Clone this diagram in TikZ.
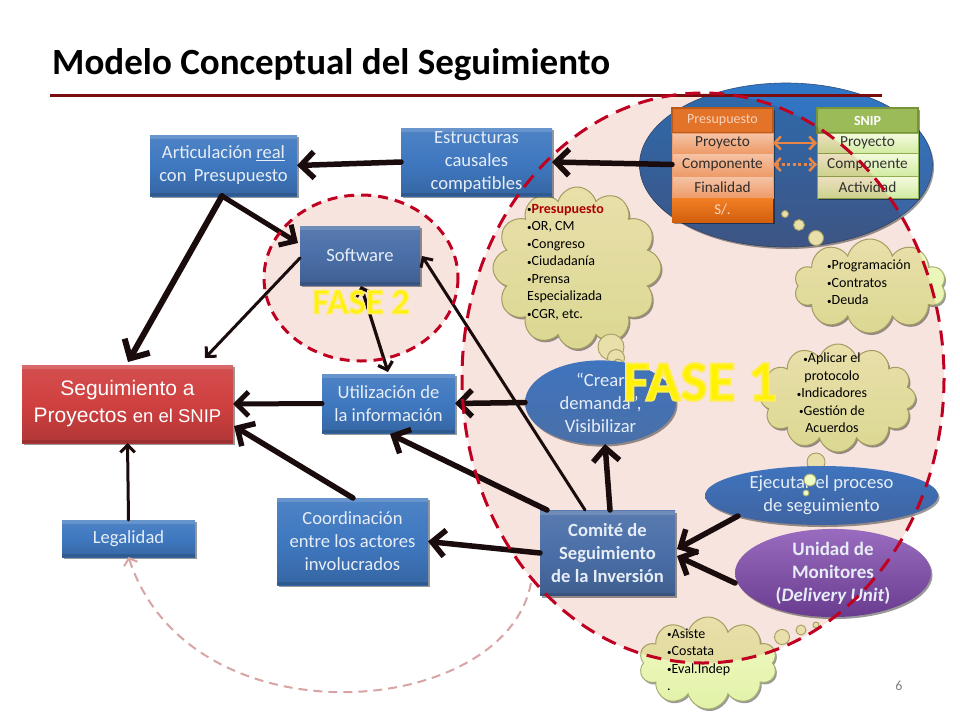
\documentclass[tikz,border=0pt]{standalone}
\usepackage{fontspec}
\setmainfont{Carlito}
\newfontfamily\arialf{Liberation Sans}
\usetikzlibrary{arrows.meta,shadows,shapes.geometric,shapes.symbols}
\newcommand{\blt}{{\fontsize{9}{9}\selectfont\raisebox{.6pt}{•}}}
\definecolor{ink}{HTML}{1A0C0C}
\definecolor{dashred}{HTML}{C00020}
\definecolor{pinkbg}{HTML}{F8E4DE}
\definecolor{lite}{HTML}{E6EDF6}
\definecolor{cloudedge}{HTML}{A8B070}
\definecolor{cloudtop}{HTML}{F0FAC4}
\definecolor{cloudbot}{HTML}{E2F2A8}
\definecolor{PchT}{HTML}{FCDCC0}
\definecolor{PchB}{HTML}{F5AE78}
\definecolor{SnipE}{HTML}{8FAE52}
\definecolor{SnT}{HTML}{F5FBDF}
\definecolor{SnB}{HTML}{D2EBA2}
\definecolor{OrA}{HTML}{EE9650}
\definecolor{BoxA}{HTML}{3F78C0}
\definecolor{BoxB}{HTML}{4A6FA8}
\definecolor{BoxR}{HTML}{D04040}
\definecolor{BlueT}{HTML}{2F78C8}
\definecolor{BlueB}{HTML}{3F5F98}
\definecolor{BlueE}{HTML}{2F4C7A}
\definecolor{CreT}{HTML}{3F74BE}
\definecolor{CreB}{HTML}{4A6FA8}
\definecolor{EjeB}{HTML}{3F63A0}
\definecolor{UniT}{HTML}{9A6CC0}
\definecolor{UniB}{HTML}{6A3C90}
\definecolor{PHE}{HTML}{C0651F}
\definecolor{PHF}{HTML}{E9812F}
\definecolor{STop}{HTML}{F98F2A}
\definecolor{SBot}{HTML}{D96A10}
\definecolor{SHE}{HTML}{77933C}
\definecolor{SHF}{HTML}{9BBB59}
\definecolor{RuleC}{HTML}{7A0C10}
\definecolor{PinkL}{HTML}{D8A4A4}
\definecolor{PchE}{HTML}{F2B080}
\tikzset{
  bevel/.style={path picture={
    \fill[white,opacity=.15] (path picture bounding box.north west) rectangle ([yshift=-4pt]path picture bounding box.north east);
    \fill[black,opacity=.12] (path picture bounding box.south west) rectangle ([yshift=3pt]path picture bounding box.south east);
  }},
  shad/.style={drop shadow={shadow xshift=1.5pt,shadow yshift=-2pt,opacity=.4,fill=black}},
  bx/.style={rectangle,bevel,shad,inner sep=1pt,outer sep=0pt,align=center,text=lite,
    top color=#1!92!white,bottom color=#1!85!black,middle color=#1,
    font=\fontsize{18.6}{23}\selectfont},
  ell/.style={ellipse,shad,inner sep=0pt,outer sep=0pt,align=center,text=lite,
    font=\fontsize{18.6}{23}\selectfont},
  puff/.style={cloud,cloud puffs=#1,cloud ignores aspect,inner sep=0pt,outer sep=0pt,draw=cloudedge,line width=1pt,
    top color=cloudtop,bottom color=cloudbot,shad},
  bub/.style={circle,inner sep=0pt,outer sep=0pt,draw=cloudedge,line width=.9pt,fill=cloudtop},
  cloudtxt/.style={align=left,anchor=north west,inner sep=0pt,text=black,
    font=\fontsize{14}{17.5}\selectfont},
  row/.style={rectangle,inner sep=0pt,outer sep=0pt,minimum width=101pt,text=black!80,
    font=\fontsize{15.3}{16}\selectfont,shad},
  ptop/.style={row,draw=PchE,top color=PchT,bottom color=PchB},
  stop/.style={row,draw=SnipE,line width=.7pt,top color=SnT,bottom color=SnB},
  conn/.style={draw=ink,line width=#1*1pt,line cap=round,line join=round,
    -{Straight Barb[length=#1*2.4pt,width=#1*4.8pt,line width=#1*1pt]}},
  ornarrow/.style={draw=OrA,line width=2.6pt,{Straight Barb[length=6pt,width=13pt]}-{Straight Barb[length=6pt,width=13pt]}},
  faselbl/.style={inner sep=0pt,text=yellow}
}
\begin{document}
\begin{tikzpicture}[x=1pt,y=-1pt]
\useasboundingbox (0,0) rectangle (960,720);
\fill[white] (0,0) rectangle (960,720);

% title
\node[anchor=base west,inner sep=0pt,text=black,font=\bfseries\fontsize{37}{40}\selectfont] (title) at (52,74) {Modelo Conceptual del Seguimiento};

% FASE 2 region
\node[ellipse,minimum width=195pt,minimum height=166pt,inner sep=0pt,fill=pinkbg] (f2bg) at (361,278) {};

% blue thought ellipse
\node[ell,minimum width=293pt,minimum height=164pt,top color=BlueT,bottom color=BlueB,draw=BlueE,line width=.6pt] (blue) at (786,165) {};
\node[bub,minimum size=7pt] (pb1) at (785,214) {};
\node[bub,minimum size=11pt] (pb2) at (799,225) {};
\node[bub,minimum size=15pt] (pb3) at (816,238) {};

% clouds
\node[puff=12,minimum width=168pt,minimum height=162pt] (cl1) at (577,268) {};
\node[puff=10,minimum width=152pt,minimum height=94pt] (cl2) at (870,286) {};
\node[puff=12,minimum width=155pt,minimum height=108pt] (cl3) at (838,398) {};
\node[puff=10,minimum width=138pt,minimum height=92pt] (cl4) at (708,663) {};
\node[bub,minimum size=26pt] (b11) at (611,347) {};
\node[bub,minimum size=17pt] (b12) at (616,358) {};
\node[bub,minimum size=10pt] (b13) at (618,364) {};
\node[bub,minimum size=18pt] (b31) at (816,462) {};
\node[bub,minimum size=15pt] (b41) at (782,637) {};
\node[bub,minimum size=10pt] (b42) at (801,630) {};
\node[bub,minimum size=6pt] (b43) at (816,625) {};

\node[cloudtxt] (t1) at (527,204) {\blt\textcolor{red!70!black}{\textbf{Presupuesto}}\\\blt OR, CM\\\blt Congreso\\\blt Ciudadanía\\\blt Prensa\\Especializada\\\blt CGR, etc.};
\node[cloudtxt] (t2) at (827,260) {\blt Programación\\\blt Contratos\\\blt Deuda};
\node[cloudtxt,align=center,anchor=north] (t3) at (832,353) {\blt Aplicar el\\protocolo\\\blt Indicadores\\\blt Gestión de\\Acuerdos};
\node[cloudtxt] (t4) at (667,628.5) {\blt Asiste\\\blt Costata\\\blt Eval.Indep\\.};

% tables
\node[row,minimum height=25pt,draw=PHE,line width=1.6pt,fill=PHF,text=white!85!orange,font=\fontsize{14}{15}\selectfont] (phead) at (722.5,120.5) {Presupuesto};
\node[ptop,minimum height=20pt] (p1) at (722.5,143) {Proyecto};
\node[ptop,minimum height=23pt] (p2) at (722.5,164.5) {Componente};
\node[ptop,minimum height=22pt] (p3) at (722.5,187) {Finalidad};
\node[row,minimum height=24pt,top color=STop,bottom color=SBot,text=white!90!orange,font=\fontsize{15}{16}\selectfont] (p4) at (722.5,210) {S/.};
\node[row,minimum height=25pt,draw=SHE,line width=1.6pt,fill=SHF,text=white,font=\bfseries\fontsize{14}{15}\selectfont] (shead) at (867.5,120.5) {SNIP};
\node[stop,minimum height=20pt] (s1) at (867.5,143) {Proyecto};
\node[stop,minimum height=23pt] (s2) at (867.5,164.5) {Componente};
\node[stop,minimum height=22pt] (s3) at (867.5,187) {Actividad};
\draw[ornarrow] (p1) -- (s1);
\draw[ornarrow,dash pattern=on 3pt off 2.5pt] (p2) -- (s2);

% FASE 1 fill, tinting what lies under it
\begin{scope}[blend mode=multiply]
\fill[pinkbg] (703,378) ellipse [x radius=241,y radius=285];
\end{scope}

% rule over the blue ellipse
\draw[line width=2.6pt,draw=RuleC] (50,95.5) -- (882,95.5);

% boxes
\node[bx=BoxA,minimum width=147pt,minimum height=61pt] (art) at (223.5,165.5) {Articulación \underline{real}\\con\, Presupuesto};
\node[bx=BoxA,minimum width=151pt,minimum height=68pt] (est) at (476.5,162) {Estructuras\\causales\\compatibles};
\node[bx=BoxB,minimum width=120pt,minimum height=59pt] (soft) at (360,255.5) {Software};
\node[bx=BoxR,minimum width=211pt,minimum height=78pt,text=white,font=\arialf\fontsize{21}{27}\selectfont] (seg) at (127.5,404) {Seguimiento a\\Proyectos {\fontsize{18.5}{27}\selectfont en el SNIP}};
\node[bx=BoxA,minimum width=133pt,minimum height=59pt] (uti) at (388.5,403.5) {Utilización de\\la información};
\node[bx=BoxA,minimum width=133pt,minimum height=37pt] (leg) at (128.5,538.5) {Legalidad};
\node[bx=BoxA,minimum width=151pt,minimum height=87pt] (coo) at (352.5,541.5) {Coordinación\\entre los actores\\involucrados};
\node[bx=BoxB,minimum width=135pt,minimum height=85pt,font=\bfseries\fontsize{18.6}{23}\selectfont] (com) at (607.5,553) {Comité de\\Seguimiento\\de la Inversión};
\node[ell,minimum width=151pt,minimum height=81pt,top color=CreT,bottom color=CreB] (cre) at (600.5,402.5) {“Crear\\demanda”,\\Visibilizar};
\node[ell,minimum width=233pt,minimum height=59pt,top color=CreT,bottom color=EjeB] (eje) at (821.5,495.5) {Ejecutar el proceso\\de seguimiento};
\node[ell,minimum width=196pt,minimum height=84pt,top color=UniT,bottom color=UniB,font=\bfseries\fontsize{19}{23}\selectfont] (uni) at (833,573) {Unidad de\\Monitores\\(\textit{Delivery Unit})};

% thought bubbles over the Ejecutar ellipse
\node[bub,minimum size=6pt] (b33) at (806,493) {};
\node[bub,minimum size=12pt] (b32) at (810,480) {};

% connectors
\coordinate (artout) at (222,196);
\coordinate (softin) at (298,243);
\coordinate (softout) at (300,258);
\coordinate (segin1) at (128,362);
\coordinate (segin2) at (205,358);
\coordinate (softdn) at (361,286);
\coordinate (utiup) at (388,372);
\coordinate (comsoft) at (585,510);
\coordinate (softr) at (422,256);
\coordinate (comup) at (610,510);
\coordinate (creln) at (605,444);
\coordinate (comuti) at (547,510);
\coordinate (utibot) at (390,434);
\coordinate (cooup) at (353,498);
\coordinate (segcoo) at (234,426);
\coordinate (ejeout) at (738,516);
\coordinate (comr1) at (677,549);
\coordinate (uniout) at (735,583);
\coordinate (comr2) at (677,556);
\coordinate (pinkst) at (531,583);

\draw[conn=5.5] (p2.west) -- (est.east);
\draw[conn=5.5] (est.west) -- (art.east);
\draw[conn=6] (artout) -- (segin1);
\draw[conn=5] (artout) -- (softin);
\draw[conn=3] (softout) -- (segin2);
\draw[draw=ink,line width=3.2pt,line cap=round,{Straight Barb[length=7pt,width=15pt,line width=3.2pt]}-{Straight Barb[length=7pt,width=15pt,line width=3.2pt]}] (softdn) -- (utiup);
\draw[conn=3] (comsoft) -- (softr);
\draw[conn=5.5] (comup) -- (creln);
\draw[conn=5.5] (cre.west) -- (uti.east);
\draw[conn=5] (uti.west) -- (seg.east);
\draw[conn=5.5] (comuti) -- (utibot);
\draw[conn=5.5] (com.west) -- (coo.east);
\draw[conn=5.5] (cooup) -- (segcoo);
\draw[conn=3] (leg.north) -- (seg.south);
\draw[conn=5.5] (ejeout) -- (comr1);
\draw[conn=5.5] (uniout) -- (comr2);
\draw[draw=PinkL,line width=2pt,dash pattern=on 9pt off 6pt,-{Straight Barb[length=6pt,width=14pt]}] (pinkst) .. controls (505,720) and (190,745) .. (leg.south);

% dashed regions
\draw[dashred,line width=3pt,dash pattern=on 15pt off 9pt] (703,378) ellipse [x radius=241,y radius=285];
\draw[dashred,line width=3pt,dash pattern=on 10pt off 7pt] (f2bg.center) ellipse [x radius=97,y radius=83];

% phase labels
\node[inner sep=0pt,text=black!50,font=\fontsize{14}{16}\selectfont] (pg) at (899,686) {6};
\node[faselbl,font=\bfseries\fontsize{36}{38}\selectfont] (f2) at (361,302) {\special{pdf:code 2 Tr 1.6 w 1 .93 .4 RG}FASE 2\special{pdf:code 0 Tr}};
\node[faselbl,font=\bfseries\fontsize{57}{60}\selectfont] (f1) at (700,382) {\special{pdf:code 2 Tr 2 w 1 .93 .3 RG}FASE 1\special{pdf:code 0 Tr}};
\end{tikzpicture}
\end{document}
